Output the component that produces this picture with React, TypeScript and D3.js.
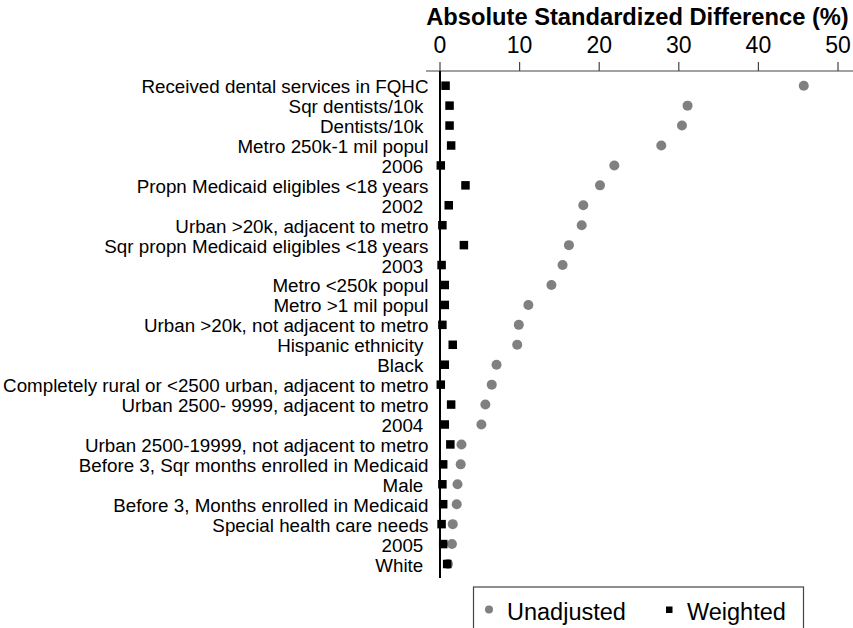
import React from "react";
import * as d3 from "d3";

const categories = [
  "Received dental services in FQHC",
  "Sqr dentists/10k ",
  "Dentists/10k ",
  "Metro 250k-1 mil popul",
  "2006 ",
  "Propn Medicaid eligibles <18 years",
  "2002 ",
  "Urban >20k, adjacent to metro",
  "Sqr propn Medicaid eligibles <18 years",
  "2003 ",
  "Metro <250k popul",
  "Metro >1 mil popul",
  "Urban >20k, not adjacent to metro",
  "Hispanic ethnicity ",
  "Black ",
  "Completely rural or <2500 urban, adjacent to metro",
  "Urban 2500- 9999, adjacent to metro",
  "2004 ",
  "Urban 2500-19999, not adjacent to metro",
  "Before 3, Sqr months enrolled in Medicaid",
  "Male ",
  "Before 3, Months enrolled in Medicaid",
  "Special health care needs",
  "2005 ",
  "White ",
];

const unadjusted = [
  45.7, 31.1, 30.4, 27.8, 21.9, 20.1, 18.0, 17.8, 16.2, 15.4, 14.0, 11.1, 9.9,
  9.7, 7.1, 6.5, 5.7, 5.2, 2.7, 2.6, 2.2, 2.1, 1.6, 1.5, 1.0,
];

const weighted = [
  0.7, 1.2, 1.2, 1.4, 0.1, 3.2, 1.1, 0.3, 3.0, 0.2, 0.6, 0.6, 0.3, 1.6, 0.6,
  0.1, 1.4, 0.6, 1.3, 0.4, 0.3, 0.4, 0.2, 0.4, 0.9,
];

const xTicks = [0, 10, 20, 30, 40, 50];
const titleText = "Absolute Standardized Difference (%)";
const legendLabels = ["Unadjusted", "Weighted"];

const W = 853;
const H = 628;
const FONT = "'Liberation Sans', Arial, Helvetica, sans-serif";

export default function App() {
  const x = d3.scaleLinear().domain([0, 50]).range([440, 838]);
  const y = d3
    .scaleLinear()
    .domain([0, categories.length - 1])
    .range([85.7, 564]);
  const axisY = 71;
  const sq = 8.5;

  return (
    <svg
      width={W}
      height={H}
      viewBox={`0 0 ${W} ${H}`}
      style={{ position: "absolute", left: 0, top: 0, display: "block", background: "#fff" }}
      fontFamily={FONT}
    >
      <rect x={0} y={0} width={W} height={H} fill="#fff" />
      {/* Title */}
      <text
        x={(x(0) + x(50)) / 2 - 1.5}
        y={25}
        textAnchor="middle"
        fontSize={23.7}
        fontWeight="bold"
        fill="#000"
      >
        {titleText}
      </text>
      {/* Top axis */}
      <line x1={426} x2={W} y1={axisY} y2={axisY} stroke="#444" strokeWidth={1.2} />
      {xTicks.map((t) => (
        <g key={t}>
          <line x1={x(t)} x2={x(t)} y1={axisY} y2={axisY - 9} stroke="#444" strokeWidth={1.2} />
          <text x={x(t)} y={53.3} textAnchor="middle" fontSize={23} fill="#000">
            {t}
          </text>
        </g>
      ))}
      {/* Zero reference line */}
      <line x1={x(0)} x2={x(0)} y1={axisY} y2={578} stroke="#000" strokeWidth={2} />
      {/* Category labels */}
      {categories.map((c, i) => (
        <text
          key={c + i}
          x={428.5}
          y={y(i) + 7.5}
          textAnchor="end"
          fontSize={18.8}
          fill="#000"
          xmlSpace="preserve"
          style={{ whiteSpace: "pre" }}
        >
          {c}
        </text>
      ))}
      {/* Unadjusted points */}
      {unadjusted.map((v, i) => (
        <circle key={"u" + i} cx={x(v)} cy={y(i)} r={5} fill="#808080" />
      ))}
      {/* Weighted points */}
      {weighted.map((v, i) => (
        <rect
          key={"w" + i}
          x={x(v) - sq / 2}
          y={y(i) - sq / 2}
          width={sq}
          height={sq}
          fill="#000"
        />
      ))}
      {/* Legend */}
      <rect x={473.5} y={587} width={330} height={60} fill="#fff" stroke="#444" strokeWidth={1.2} />
      <circle cx={489} cy={609.5} r={4} fill="#808080" />
      <text x={507} y={620} fontSize={23.5} fill="#000">
        {legendLabels[0]}
      </text>
      <rect x={666} y={606.5} width={6.5} height={6.5} fill="#000" />
      <text x={687} y={620} fontSize={23.5} fill="#000">
        {legendLabels[1]}
      </text>
    </svg>
  );
}
